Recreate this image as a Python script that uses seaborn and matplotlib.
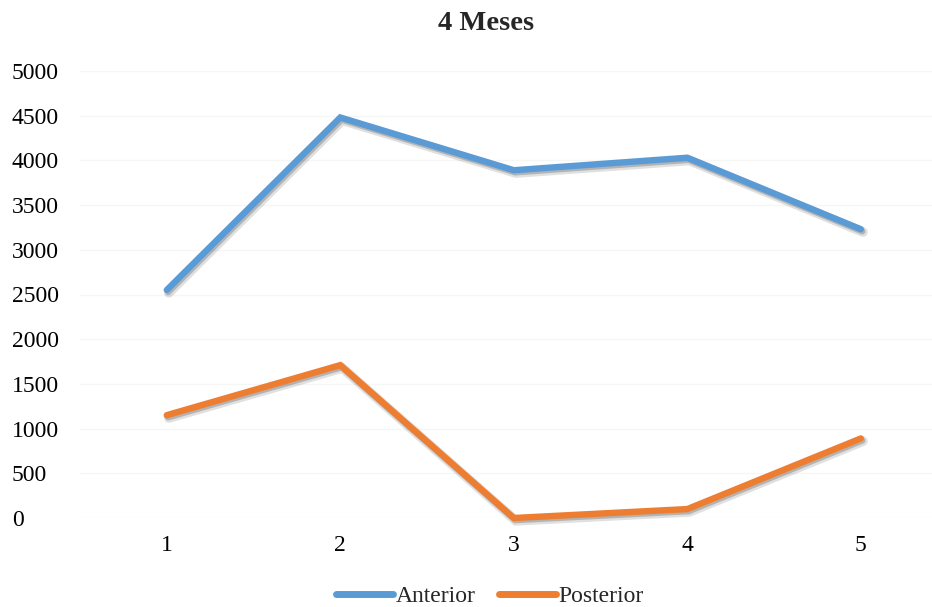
import pandas as pd
import numpy as np
import seaborn as sns
import matplotlib.pyplot as plt
import matplotlib.patheffects as pe

# data
meses = [1, 2, 3, 4, 5]
anterior = [2550, 4480, 3890, 4030, 3230]
posterior = [1150, 1710, 0, 100, 890]

df = pd.DataFrame({
    "Mes": meses * 2,
    "Valor": anterior + posterior,
    "Serie": ["Anterior"] * len(meses) + ["Posterior"] * len(meses)
})

sns.set_style("white")
plt.rcParams['font.family'] = ['Liberation Serif', 'DejaVu Serif']

fig = plt.figure(figsize=(9.32, 6.07), dpi=100)
ax = fig.add_axes([80 / 932, 89 / 607, 852 / 932, 447 / 607])

sns.lineplot(
    data=df,
    x="Mes",
    y="Valor",
    hue="Serie",
    palette={"Anterior": "#5B9BD5", "Posterior": "#ED7D31"},
    linewidth=4.6,
    ax=ax,
    legend=False
)

# soft drop shadow like the office chart
shadow = [pe.SimpleLineShadow(offset=(1.5, -2), shadow_color="black", alpha=0.12, linewidth=7),
          pe.SimpleLineShadow(offset=(1, -1.5), shadow_color="black", alpha=0.2),
          pe.Normal()]
for line in ax.lines:
    line.set_path_effects(shadow)
    line.set_clip_on(False)
    line.set_solid_capstyle("round")
    line.set_solid_joinstyle("miter")

ax.set_xlim(0.5, 5.41)
ax.set_ylim(0, 5000)
ax.set_xticks(meses)
ax.set_yticks(np.arange(0, 5001, 500))
ax.yaxis.grid(True, color="#F6F6F6", linewidth=1)
ax.set_axisbelow(True)
for s in ax.spines.values():
    s.set_visible(False)
ax.tick_params(axis="both", labelsize=17, length=0, colors="black")
ax.tick_params(axis="x", pad=12)
ax.tick_params(axis="y", pad=49)
for lbl in ax.get_yticklabels():
    lbl.set_horizontalalignment("left")
ax.set_xlabel("")
ax.set_ylabel("")

fig.text(486 / 932, 1 - 24 / 607, "4 Meses", ha="center", va="center",
         fontsize=20.5, fontweight="bold")

handles = [plt.Line2D([], [], color="#5B9BD5", linewidth=5, solid_capstyle="round"),
           plt.Line2D([], [], color="#ED7D31", linewidth=5, solid_capstyle="round")]
fig.legend(handles, ["Anterior", "Posterior"], loc="center",
           bbox_to_anchor=(490 / 932, 1 - 596 / 607), ncol=2, frameon=False,
           fontsize=17, handlelength=2.4, handletextpad=0.13, columnspacing=1.0,
           borderpad=0)

plt.savefig("out.png", dpi=100)
plt.close()
